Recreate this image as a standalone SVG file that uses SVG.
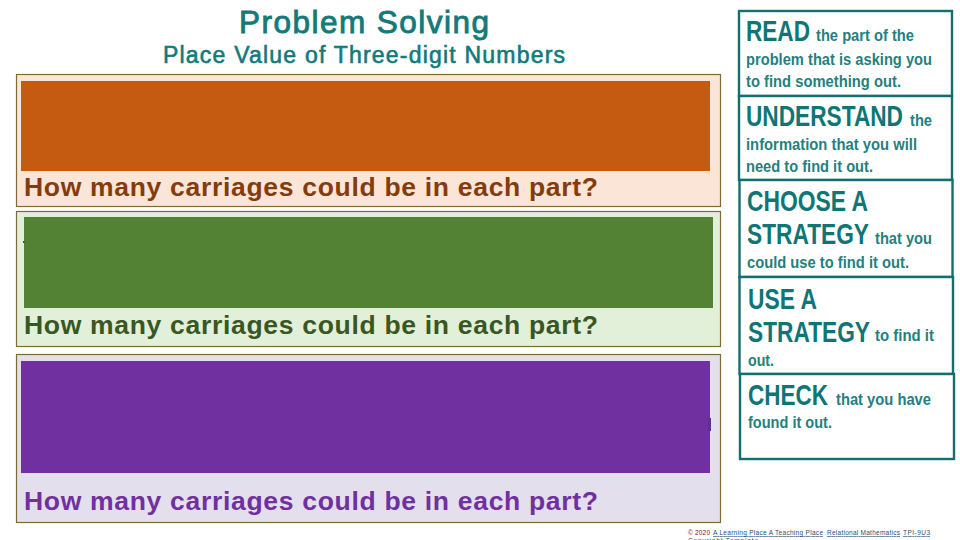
<svg xmlns="http://www.w3.org/2000/svg" width="960" height="540" viewBox="0 0 960 540">
<style>
text{font-family:"Liberation Sans",Arial,sans-serif}
.h{fill:#127a7a;stroke:#127a7a}
.b{font-size:30px;font-weight:bold;fill:#0f7575}
.s{font-size:17px;font-weight:bold;fill:#257f7f}
.q{font-size:26.500px;font-weight:bold}
.panel{stroke:#7f6a35;stroke-width:1.2}
.step{fill:#fff;stroke:#136f6f;stroke-width:2.4}
.f{font-size:6.5px}
</style>
<rect width="960" height="540" fill="#fff"/>
<g id="title">
<text class="h" x="364" y="33" font-size="31.500" stroke-width=".9" text-anchor="middle" textLength="250">Problem Solving</text>
<text class="h" x="364" y="62.500" font-size="23" stroke-width=".6" text-anchor="middle" textLength="402">Place Value of Three-digit Numbers</text>
</g>
<g id="problem-1">
<rect class="panel" x="16.500" y="74.500" width="704" height="132" fill="#fbe5d7"/>
<rect x="21" y="81" width="689" height="90" fill="#c55a11"/>
<text class="q" x="24" y="196" fill="#843c0c" textLength="574">How many carriages could be in each part?</text>
</g>
<g id="problem-2">
<rect class="panel" x="16.500" y="211.500" width="704" height="135" fill="#e2f0d9"/>
<rect x="24" y="217" width="689" height="91" fill="#548235"/>
<rect x="23" y="241" width="1.500" height="2" fill="#385723"/>
<text class="q" x="24" y="334" fill="#385723" textLength="574">How many carriages could be in each part?</text>
</g>
<g id="problem-3">
<rect class="panel" x="16.500" y="354.500" width="704" height="168" fill="#e4dfec"/>
<rect x="21" y="361" width="689" height="112" fill="#7030a0"/>
<rect x="708" y="418" width="3" height="13" fill="#60309a"/>
<text class="q" x="24" y="510" fill="#7030a0" textLength="574">How many carriages could be in each part?</text>
</g>
<g id="step-read">
<rect class="step" x="739" y="11" width="213" height="85"/>
<text class="b" x="746" y="41" textLength="64" lengthAdjust="spacingAndGlyphs">READ</text>
<text class="s" x="816" y="41" textLength="98" lengthAdjust="spacingAndGlyphs">the part of the</text>
<text class="s" x="746" y="65" textLength="186" lengthAdjust="spacingAndGlyphs">problem that is asking you</text>
<text class="s" x="746" y="87" textLength="155" lengthAdjust="spacingAndGlyphs">to find something out.</text>
</g>
<g id="step-understand">
<rect class="step" x="739" y="96" width="213" height="84"/>
<text class="b" x="746" y="126" textLength="157" lengthAdjust="spacingAndGlyphs">UNDERSTAND</text>
<text class="s" x="910" y="126" textLength="22" lengthAdjust="spacingAndGlyphs">the</text>
<text class="s" x="746" y="150" textLength="171" lengthAdjust="spacingAndGlyphs">information that you will</text>
<text class="s" x="746" y="172" textLength="127" lengthAdjust="spacingAndGlyphs">need to find it out.</text>
</g>
<g id="step-choose">
<rect class="step" x="739.500" y="180" width="213" height="97"/>
<text class="b" x="747" y="211" textLength="121" lengthAdjust="spacingAndGlyphs">CHOOSE A</text>
<text class="b" x="747" y="244" textLength="122" lengthAdjust="spacingAndGlyphs">STRATEGY</text>
<text class="s" x="875" y="244" textLength="57" lengthAdjust="spacingAndGlyphs">that you</text>
<text class="s" x="747" y="268" textLength="162" lengthAdjust="spacingAndGlyphs">could use to find it out.</text>
</g>
<g id="step-use">
<rect class="step" x="739.500" y="277" width="213.500" height="97"/>
<text class="b" x="748" y="309" textLength="69" lengthAdjust="spacingAndGlyphs">USE A</text>
<text class="b" x="748" y="342" textLength="122" lengthAdjust="spacingAndGlyphs">STRATEGY</text>
<text class="s" x="875" y="341" textLength="59" lengthAdjust="spacingAndGlyphs">to find it</text>
<text class="s" x="748" y="366" textLength="26" lengthAdjust="spacingAndGlyphs">out.</text>
</g>
<g id="step-check">
<rect class="step" x="740" y="374" width="214" height="85"/>
<text class="b" x="748" y="405" textLength="80" lengthAdjust="spacingAndGlyphs">CHECK</text>
<text class="s" x="836" y="405" textLength="95" lengthAdjust="spacingAndGlyphs">that you have</text>
<text class="s" x="748" y="428" textLength="84" lengthAdjust="spacingAndGlyphs">found it out.</text>
</g>
<g id="footer">
<text class="f" x="688" y="535" fill="#7a1030" textLength="22">© 2020</text>
<text class="f" x="713" y="535" fill="#1f4e79" text-decoration="underline" textLength="110">A Learning Place A Teaching Place</text>
<text class="f" x="827" y="535" fill="#1f4e79" text-decoration="underline" textLength="73">Relational Mathematics</text>
<text class="f" x="903" y="535" fill="#1f4e79" text-decoration="underline" textLength="27">TPI-9U3</text>
<text class="f" x="688" y="543" fill="#1f4e79" textLength="70">Copyright Template</text>
</g>
</svg>
